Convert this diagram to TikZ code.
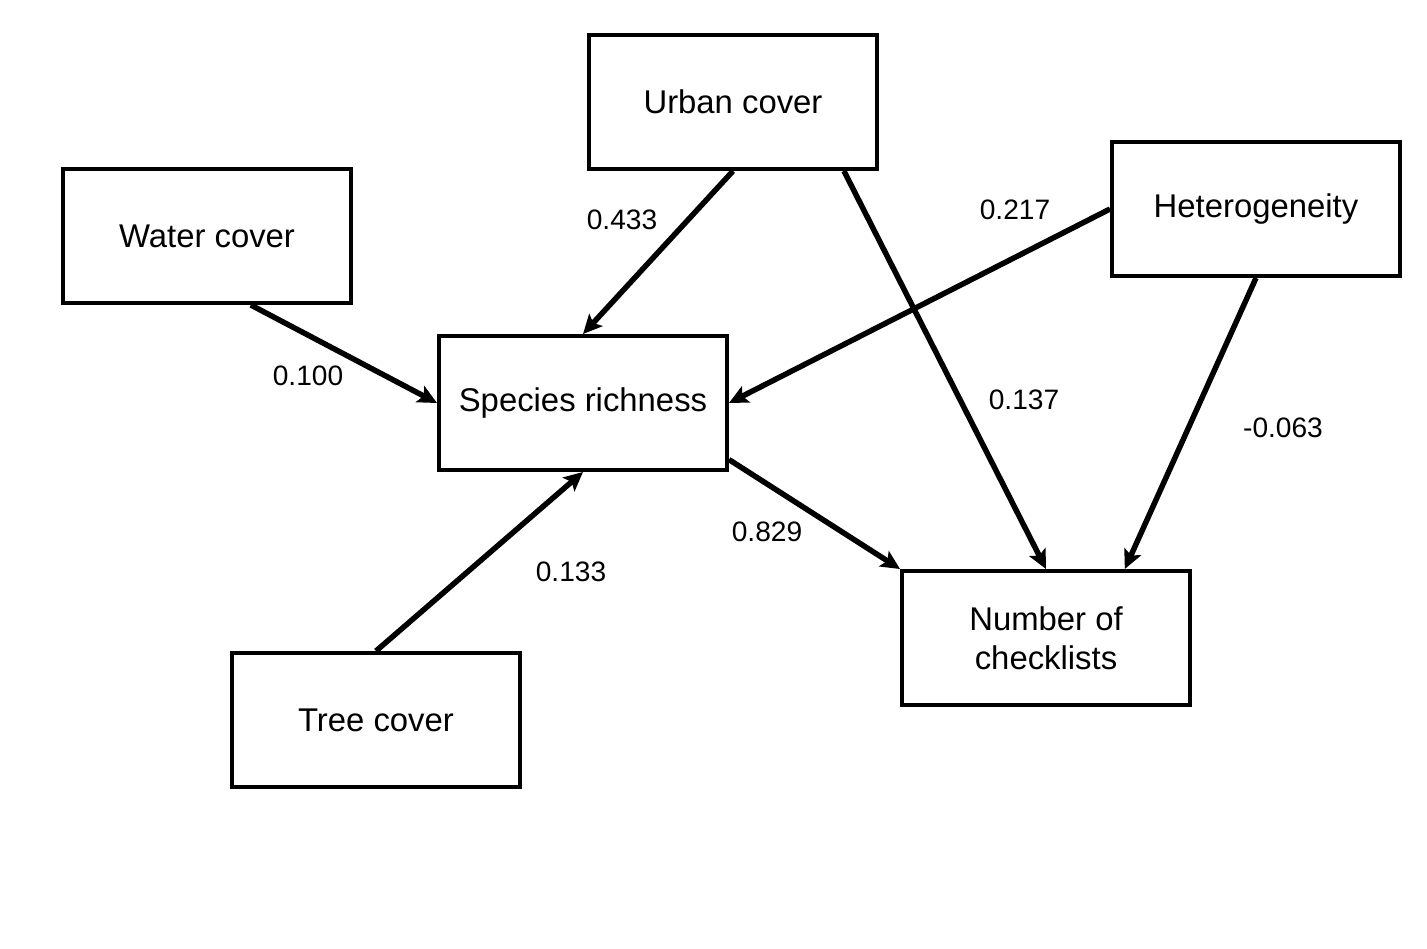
\documentclass[tikz,border=0pt]{standalone}
\usepackage{fontspec}
\setmainfont{Liberation Sans}
\usepackage{tikz}
\usetikzlibrary{arrows.meta, calc}

\begin{document}
\begin{tikzpicture}[x=0.02cm, y=-0.02cm,
  var/.style={draw, line width=0.08cm, minimum width=5.76cm, minimum height=2.68cm,
    inner sep=0pt, align=center, font=\fontsize{18.7}{22.4}\selectfont},
  coef/.style={font=\fontsize{16}{19}\selectfont},
  path/.style={line width=0.11cm, -{Stealth[length=0.38cm, width=0.36cm, inset=0.08cm]}}]
\useasboundingbox (0,0) rectangle (1427,949);

% Boxes
\node[var] (urban) at (733,102) {Urban cover};
\node[var] (water) at (207,236) {Water cover};
\node[var] (hetero) at (1256,209) {Heterogeneity};
\node[var] (rich) at (583,403) {Species richness};
\node[var] (check) at (1046,638) {Number of\\checklists};
\node[var] (tree) at (376,720) {Tree cover};

% Paths into species richness
\draw[path] ($(water.south west)!0.65!(water.south east)$) -- (rich.west);
\draw[path] (urban.south) -- (rich.north);
\draw[path] (hetero.west) -- (rich.east);
\draw[path] (tree.north) -- (rich.south);

% Paths into number of checklists
\draw[path] ($(rich.north east)!0.91!(rich.south east)$) -- (check.north west);
\draw[path] ($(urban.south west)!0.88!(urban.south east)$) -- (check.north);
\draw[path] (hetero.south) -- ($(check.north west)!0.77!(check.north east)$);

% Coefficients
\node[coef] (c1) at (622,220) {0.433};
\node[coef] (c2) at (308,376) {0.100};
\node[coef] (c3) at (1015,210) {0.217};
\node[coef] (c4) at (1024,400) {0.137};
\node[coef] (c5) at (1283,428) {-0.063};
\node[coef] (c6) at (767,532) {0.829};
\node[coef] (c7) at (571,572) {0.133};
\end{tikzpicture}
\end{document}
